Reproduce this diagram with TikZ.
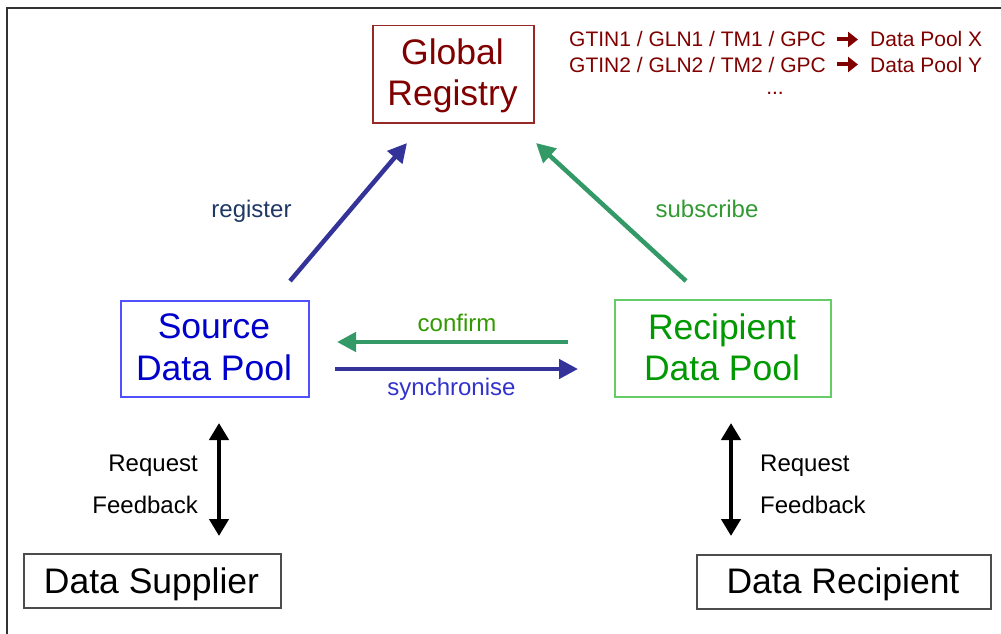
\documentclass[tikz,border=0pt]{standalone}
\usepackage{fontspec}
\setmainfont{Liberation Sans}
\usetikzlibrary{arrows.meta}
\definecolor{regred}{RGB}{128,0,0}
\definecolor{regborder}{RGB}{150,40,40}
\definecolor{arrblue}{RGB}{51,51,153}
\definecolor{arrgreen}{RGB}{51,153,102}
\definecolor{lblnavy}{RGB}{31,56,100}
\definecolor{lblgreen}{RGB}{51,153,51}
\definecolor{lblconf}{RGB}{51,153,0}
\definecolor{lblsync}{RGB}{51,51,204}
\definecolor{srcblue}{RGB}{0,0,204}
\definecolor{srcborder}{RGB}{80,80,255}
\definecolor{recgreen}{RGB}{0,153,0}
\definecolor{recborder}{RGB}{102,204,102}
\definecolor{frame}{RGB}{50,50,50}
\tikzset{
  boxnode/.style={draw, line width=1.5pt, inner sep=0pt, anchor=north west},
  big/.style={inner sep=0pt, anchor=base, font=\fontsize{35.5}{40}\selectfont},
  small/.style={inner sep=0pt, anchor=base, font=\fontsize{24}{28}\selectfont},
  tiny/.style={inner sep=0pt, anchor=base west, font=\fontsize{21}{25}\selectfont, text=regred},
  fatarrow/.style={line width=4.5pt, -{Triangle[length=19pt,width=19pt]}},
  dblarrow/.style={line width=4.5pt, {Triangle[length=17pt,width=19pt]}-{Triangle[length=17pt,width=19pt]}},
  smallarrow/.style={regred, line width=4pt, -{Triangle[length=10pt,width=15pt]}}
}
\begin{document}
\begin{tikzpicture}[x=1pt,y=-1pt]
\useasboundingbox (0,0) rectangle (1001,634);
\fill[white] (0,0) rectangle (1001,634);
% frame
\draw[frame, line width=2pt] (7,634) -- (7,8) -- (1001,8);

% boxes
\node[boxnode, draw=regborder, minimum width=161pt, minimum height=97pt] (reg) at (372,25) {};
\node[big, text=regred] (regt1) at (452.5,65) {Global};
\node[big, text=regred] (regt2) at (452.5,105) {Registry};

\node[boxnode, draw=srcborder, minimum width=188pt, minimum height=96pt] (src) at (120,300) {};
\node[big, text=srcblue] (srct1) at (214,338) {Source};
\node[big, text=srcblue] (srct2) at (214,380) {Data Pool};

\node[boxnode, draw=recborder, minimum width=216pt, minimum height=97pt] (rec) at (614,299) {};
\node[big, text=recgreen] (rect1) at (722,339) {Recipient};
\node[big, text=recgreen] (rect2) at (722,380) {Data Pool};

\node[boxnode, draw=black!70, minimum width=257pt, minimum height=54pt] (sup) at (23,553) {};
\node[big] (supt) at (151.5,593) {Data Supplier};

\node[boxnode, draw=black!70, minimum width=294pt, minimum height=54pt] (drec) at (696,554) {};
\node[big] (drect) at (843,593.5) {Data Recipient};

% top-right registry text
\node[tiny] (l1a) at (569,47) {GTIN1 / GLN1 / TM1 / GPC};
\coordinate (a1s) at (837,39.5);
\coordinate (a1e) at (858,39.5);
\draw[smallarrow] (a1s) -- (a1e);
\node[tiny] (l1c) at (870,47) {Data Pool X};
\node[tiny] (l2a) at (569,72) {GTIN2 / GLN2 / TM2 / GPC};
\coordinate (a2s) at (837,64.5);
\coordinate (a2e) at (858,64.5);
\draw[smallarrow] (a2s) -- (a2e);
\node[tiny] (l2c) at (870,72) {Data Pool Y};
\node[tiny, anchor=base] (l3) at (775,95) {...};

% coordinates for arrows
\coordinate (regS) at (290,281);
\coordinate (regE) at (407,143);
\coordinate (subS) at (686,281);
\coordinate (subE) at (536,143);
\coordinate (conS) at (568,342);
\coordinate (conE) at (337,342);
\coordinate (synS) at (335,369);
\coordinate (synE) at (578,369);
\coordinate (lvT) at (219,423);
\coordinate (lvB) at (219,536);
\coordinate (rvT) at (731,423);
\coordinate (rvB) at (731,536);

\draw[fatarrow, arrblue] (regS) -- (regE);
\draw[fatarrow, arrgreen] (subS) -- (subE);
\draw[fatarrow, arrgreen] (conS) -- (conE);
\draw[fatarrow, arrblue] (synS) -- (synE);
\draw[dblarrow] (lvT) -- (lvB);
\draw[dblarrow] (rvT) -- (rvB);

% labels
\node[small, text=lblnavy] (lreg) at (251.5,217) {register};
\node[small, text=lblgreen] (lsub) at (707,217) {subscribe};
\node[small, text=lblconf] (lcon) at (457,331) {confirm};
\node[small, text=lblsync] (lsyn) at (451.5,395) {synchronise};
\node[small, anchor=base east] (lreq) at (198,471) {Request};
\node[small, anchor=base east] (lfb) at (198,513) {Feedback};
\node[small, anchor=base west] (rreq) at (760,471) {Request};
\node[small, anchor=base west] (rfb) at (760,513) {Feedback};
\end{tikzpicture}
\end{document}
